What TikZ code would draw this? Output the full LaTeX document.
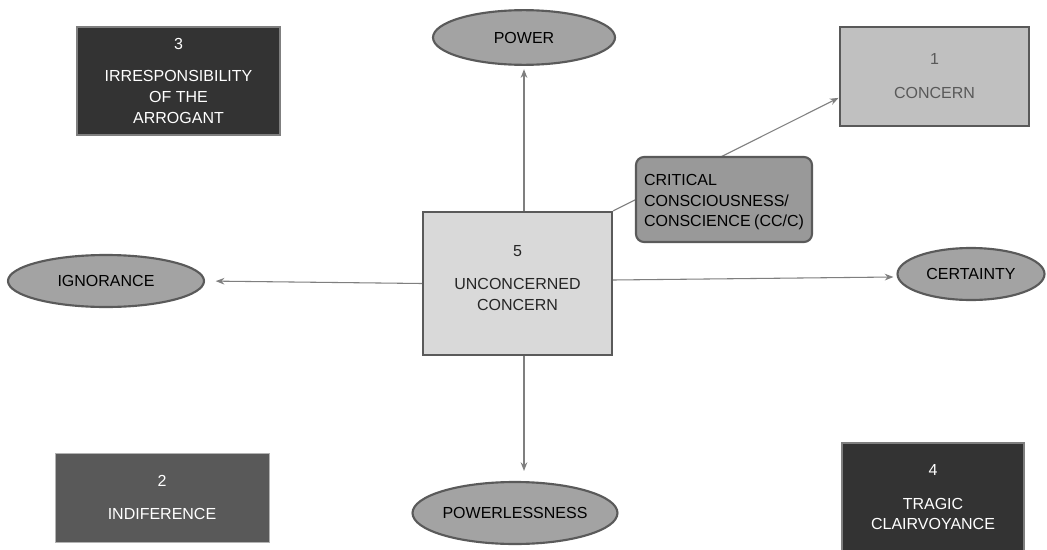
\documentclass[tikz,border=0pt]{standalone}
\usepackage{fontspec}
\setmainfont{Liberation Sans}
\usetikzlibrary{shapes.geometric,arrows.meta,calc}
\definecolor{dark}{HTML}{333333}
\definecolor{mid}{HTML}{595959}
\definecolor{light}{HTML}{C0C0C0}
\definecolor{pale}{HTML}{D9D9D9}
\definecolor{ovalfill}{HTML}{A3A3A3}
\definecolor{ccfill}{HTML}{999999}
\definecolor{edge}{HTML}{5A5A5A}
\definecolor{linec}{HTML}{7F7F7F}
\tikzset{
  every node/.style={font=\fontsize{12}{15.5}\selectfont},
  sqbox/.style={rectangle, align=center, inner sep=0pt},
  oval/.style={ellipse, draw=edge, line width=1.6pt, fill=ovalfill, inner sep=0pt, text=black},
  arr/.style={draw=linec, line width=0.8pt, -{Stealth[length=6.5pt,width=5pt]}},
  plain/.style={draw=linec, line width=0.8pt}
}
\begin{document}
\begin{tikzpicture}[x=0.75pt,y=-0.75pt]
\clip (0,0) rectangle (1047,550);
\fill[white] (0,0) rectangle (1047,550);
% boxes
\node[sqbox, fill=dark, draw=linec, line width=1.2pt, text=white,
  minimum width=152.25pt, minimum height=81pt] (b3) at (178.5,81)
  {3\\[8.5pt]IRRESPONSIBILITY\\OF THE\\ARROGANT};
\node[sqbox, fill=light, draw=mid, line width=2.2pt, text=mid,
  minimum width=141.75pt, minimum height=74.25pt] (b1) at (934.5,76.5)
  {1\\[10pt]CONCERN};
\node[sqbox, fill=pale, draw=edge, line width=1.6pt, text=black!85,
  minimum width=141.75pt, minimum height=107.25pt] (b5) at (517.5,283.5)
  {5\\[9.5pt]UNCONCERNED\\CONCERN\\[-6.5pt]\mbox{}};
\node[sqbox, fill=mid, draw=linec!60, line width=0.6pt, text=white,
  minimum width=160.5pt, minimum height=66.75pt] (b2) at (162,497.5)
  {2\\[9.5pt]INDIFERENCE};
\node[sqbox, fill=dark, draw=linec, line width=1.2pt, text=white,
  minimum width=136.5pt, minimum height=81pt] (b4) at (933,497)
  {4\\[10pt]TRAGIC\\CLAIRVOYANCE};
% ellipses
\node[oval, minimum width=136.5pt, minimum height=41pt] (power) at (524,37.5) {POWER};
\node[oval, minimum width=147pt, minimum height=39pt] (ign) at (106,281) {IGNORANCE};
\node[oval, minimum width=110.25pt, minimum height=39pt] (cert) at (971,274) {CERTAINTY};
\node[oval, minimum width=150pt, minimum height=46.5pt] (pless) at (515,513) {POWERLESSNESS};
% connectors
\coordinate (b1in) at ($(b1.south west)!0.29!(b1.north west)$);
\draw[arr] (b5.north east) -- (b1in);
\draw[arr, shorten >=2.5pt] (power.south |- b5.north) -- (power.south);
\draw[arr, shorten >=8pt] (b5.west) -- (ign.east);
\coordinate (rs) at ($(b5.east)+(0,-3.5)$);
\coordinate (re) at ($(cert.west)+(-3,3)$);
\draw[arr] (rs) -- (re);
\coordinate (pl) at ($(power.south |- b5.south)$);
\draw[arr] (pl) -- ($(pl |- pless.north)+(0,-10)$);
% CC/C box drawn over the line
\node[rectangle, rounded corners=6pt, fill=ccfill, draw=edge, line width=1.6pt,
  minimum width=132pt, minimum height=63.75pt, align=left, text=black,
  inner sep=0pt] (cc) at (724,199.5)
  {\parbox{120pt}{\vspace*{4pt}CRITICAL\\CONSCIOUSNESS/\\CONSCIENCE (CC/C)}};
\end{tikzpicture}
\end{document}
